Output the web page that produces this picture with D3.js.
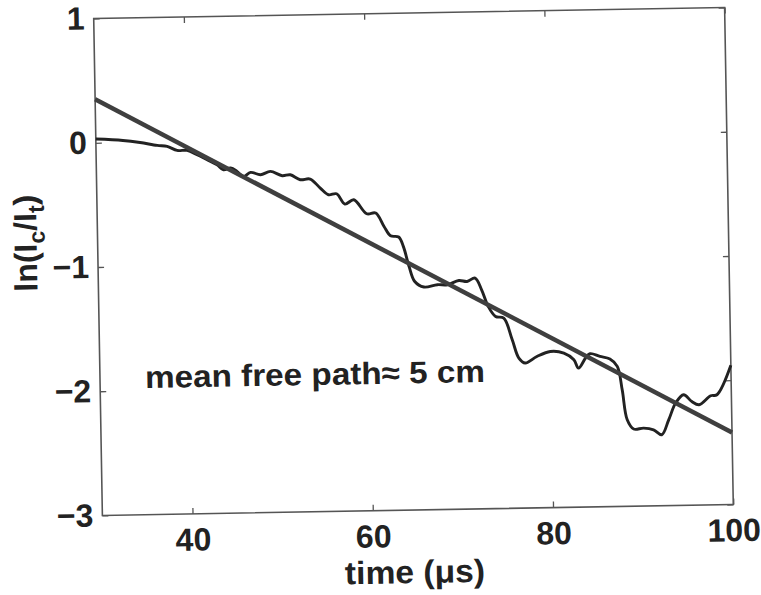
<!DOCTYPE html>
<html>
<head>
<meta charset="utf-8">
<script src="https://cdn.jsdelivr.net/npm/d3@7"></script>
<style>
  html, body { margin: 0; padding: 0; background: #fff; }
  svg { display: block; }
  text { font-family: 'Liberation Sans', Arial, Helvetica, sans-serif; font-weight: bold; fill: #222; }
</style>
</head>
<body>
<svg id="chart" width="761" height="595"></svg>
<script>
// measured signal, ln(Ic/It) vs time
const timeUs = [30, 33.0, 34.9, 36.8, 37.9, 39.0, 40.1, 41.2, 42.3, 43.4, 44.1, 44.9, 45.6, 46.3, 47.1,
  48.2, 49.3, 50.6, 51.5, 52.6, 53.7, 54.8, 55.7, 56.6, 57.5, 58.5, 59.9, 60.9, 61.8, 62.5, 63.4,
  63.9, 64.5, 65.1, 66.1, 67.6, 68.7, 70.0, 70.9, 71.8, 72.5, 73.2, 74.0, 74.9, 75.8, 76.5, 77.2,
  78.5, 80.0, 81.5, 82.6, 83.1, 83.9, 84.4, 85.5, 86.6, 87.4, 87.9, 88.4, 89.1, 90.2, 91.3, 92.2,
  93.0, 93.8, 94.7, 95.6, 96.4, 97.7, 98.4, 100]
const lnRatio = [0.03, 0.015, -0.004, -0.03, -0.039, -0.073, -0.074, -0.11, -0.152, -0.194, -0.235,
  -0.222, -0.25, -0.292, -0.26, -0.28, -0.255, -0.291, -0.285, -0.326, -0.322, -0.396, -0.451,
  -0.444, -0.528, -0.495, -0.609, -0.605, -0.714, -0.79, -0.801, -0.877, -1.039, -1.161, -1.207,
  -1.19, -1.192, -1.159, -1.168, -1.142, -1.237, -1.372, -1.454, -1.468, -1.644, -1.792, -1.833,
  -1.782, -1.743, -1.758, -1.813, -1.881, -1.801, -1.767, -1.79, -1.813, -1.873, -2.062, -2.304,
  -2.379, -2.373, -2.388, -2.429, -2.31, -2.176, -2.11, -2.166, -2.193, -2.122, -2.115, -1.88]

// straight line fit
const fitTime = [30, 100]
const fitLn = [0.35, -2.42]

const xTicks = [40, 60, 80, 100]
const yTicks = [1, 0, -1, -2, -3]
const xDomain = [30, 100]
const yDomain = [-3, 1]

const margin = { left: 98, right: 32, top: 13, bottom: 85 }
const width = 761, height = 595
const x = d3.scaleLinear(xDomain, [margin.left, width - margin.right])
const y = d3.scaleLinear(yDomain, [height - margin.bottom, margin.top])
const cx = (x.range()[0] + x.range()[1]) / 2
const cy = (y.range()[0] + y.range()[1]) / 2

const svg = d3.select('#chart')
// the scanned figure sits slightly tilted
const g = svg.append('g').attr('transform', `rotate(-1, ${cx}, ${cy})`)

const fmt = (d) => (d < 0 ? '\u2212' + Math.abs(d) : String(d))

// axes, ticks pointing inward on all four sides
const styleAxis = (sel) => {
  sel.select('.domain').remove()
  sel.selectAll('.tick line').attr('stroke', '#555').attr('stroke-width', 1.3)
  sel.selectAll('.tick text')
    .attr('font-size', 32)
    .attr('font-family', "'Liberation Sans', Arial, sans-serif")
    .attr('font-weight', 'bold')
    .attr('fill', '#222')
}

g.append('g')
  .attr('transform', `translate(0, ${y(-3)})`)
  .call(d3.axisBottom(x).tickValues(xTicks).tickSizeInner(-6).tickSizeOuter(0).tickPadding(14).tickFormat(fmt))
  .call(styleAxis)

g.append('g')
  .attr('transform', `translate(0, ${y(1)})`)
  .call(d3.axisTop(x).tickValues(xTicks).tickSizeInner(-6).tickSizeOuter(0).tickFormat(''))
  .call(styleAxis)

g.append('g')
  .attr('transform', `translate(${x(30)}, 0)`)
  .call(d3.axisLeft(y).tickValues(yTicks).tickSizeInner(-6).tickSizeOuter(0).tickPadding(9).tickFormat(fmt))
  .call(styleAxis)

g.append('g')
  .attr('transform', `translate(${x(100)}, 0)`)
  .call(d3.axisRight(y).tickValues(yTicks).tickSizeInner(-6).tickSizeOuter(0).tickFormat(''))
  .call(styleAxis)

g.append('rect')
  .attr('x', x(30)).attr('y', y(1))
  .attr('width', x(100) - x(30)).attr('height', y(-3) - y(1))
  .attr('fill', 'none').attr('stroke', '#555').attr('stroke-width', 1.6)

// data curve
const pts = timeUs.map((t, i) => [t, lnRatio[i]])
g.append('path')
  .datum(pts)
  .attr('fill', 'none')
  .attr('stroke', '#222')
  .attr('stroke-width', 2.9)
  .attr('stroke-linejoin', 'round')
  .attr('d', d3.line().x((d) => x(d[0])).y((d) => y(d[1])).curve(d3.curveCatmullRom.alpha(0.5)))

// fitted line
g.append('path')
  .datum(fitTime.map((t, i) => [t, fitLn[i]]))
  .attr('fill', 'none')
  .attr('stroke', '#3f3f3f')
  .attr('stroke-width', 4.5)
  .attr('d', d3.line().x((d) => x(d[0])).y((d) => y(d[1])))

// labels
g.append('text')
  .attr('x', cx - 4)
  .attr('y', y(-3) + 73)
  .attr('text-anchor', 'middle')
  .attr('font-size', 32)
  .attr('textLength', 140)
  .attr('lengthAdjust', 'spacingAndGlyphs')
  .text('time (\u03bcs)')

const yl = g.append('text')
  .attr('transform', `translate(${x(30) - 61}, ${cy - 25}) rotate(-90)`)
  .attr('text-anchor', 'middle')
  .attr('font-size', 32)
yl.append('tspan').text('ln(I')
yl.append('tspan').attr('font-size', 23).attr('dy', 8).text('c')
yl.append('tspan').attr('dy', -8).text('/I')
yl.append('tspan').attr('font-size', 23).attr('dy', 8).text('t')
yl.append('tspan').attr('dy', -8).text(')')

g.append('text')
  .attr('x', x(30) + 45)
  .attr('y', y(-1.98))
  .attr('font-size', 31)
  .attr('textLength', 340)
  .attr('lengthAdjust', 'spacingAndGlyphs')
  .text('mean free path\u2248 5 cm')
</script>
</body>
</html>
